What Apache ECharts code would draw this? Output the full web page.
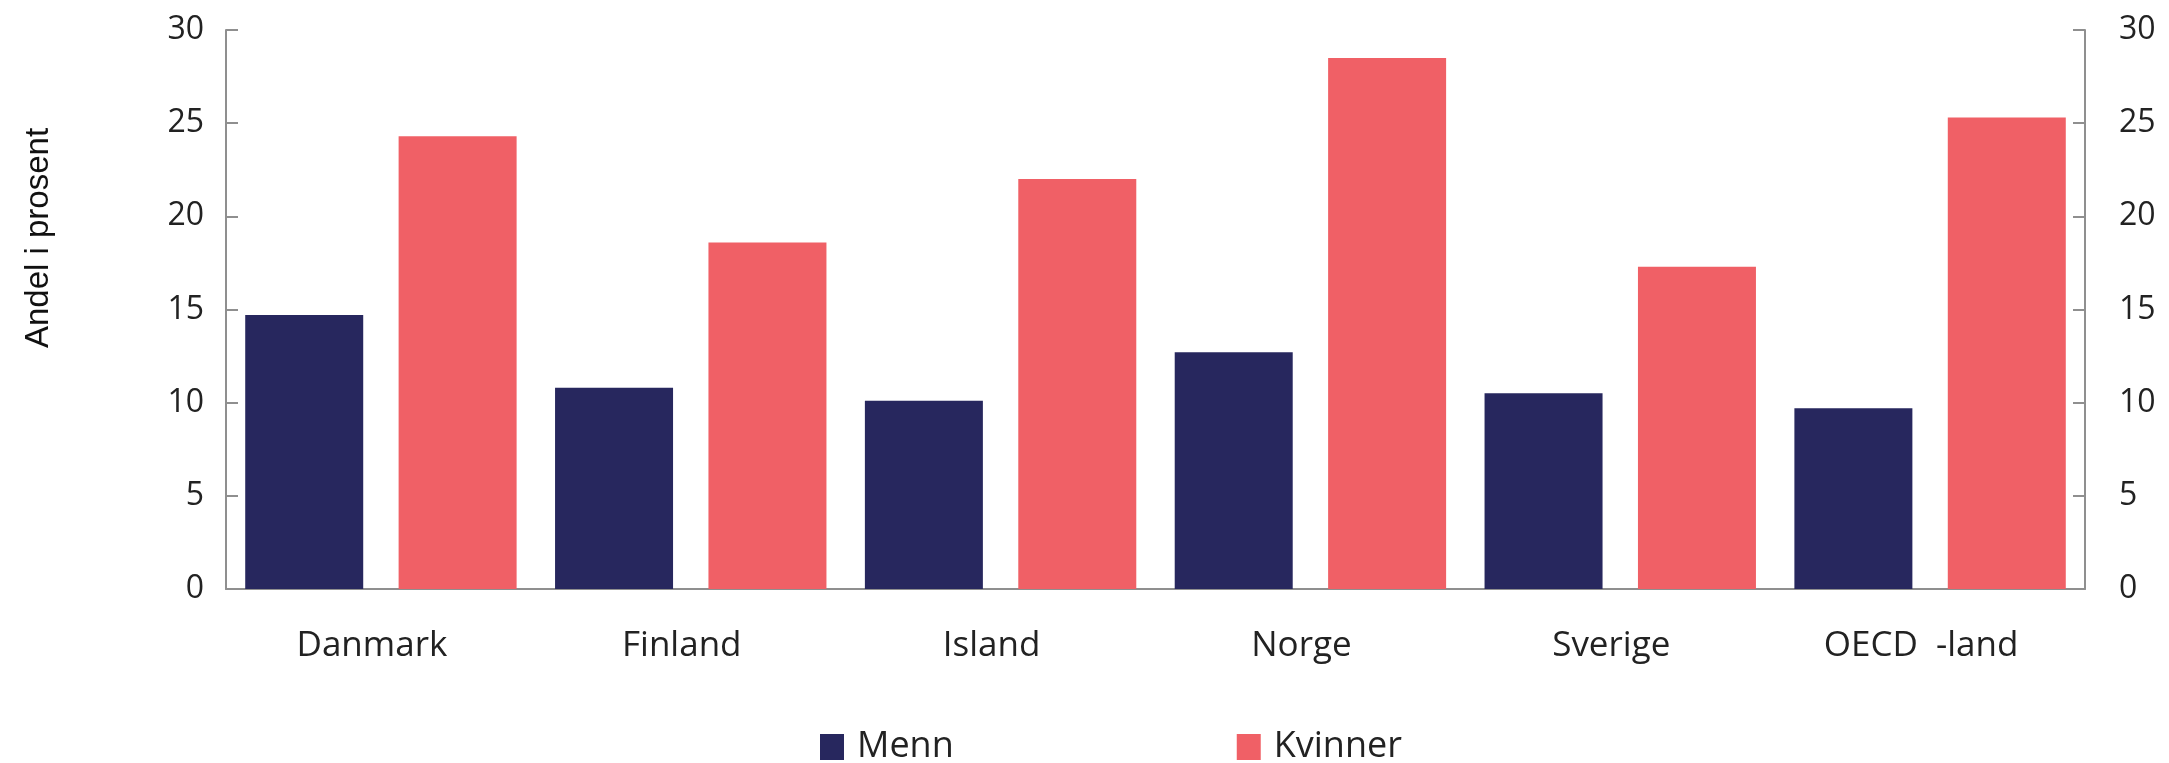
<!DOCTYPE html>
<html>
<head>
<meta charset="utf-8">
<script src="https://cdn.jsdelivr.net/npm/echarts@6/dist/echarts.min.js"></script>
<style>
html,body{margin:0;padding:0;background:#fff;}
#chart{width:2169px;height:763px;}
</style>
</head>
<body>
<div id="chart"></div>
<script>
const categories = ['Danmark', 'Finland', 'Island', 'Norge', 'Sverige', 'OECD  -land'];
const menn = [14.7, 10.8, 10.1, 12.7, 10.5, 9.7];
const kvinner = [24.3, 18.6, 22.0, 28.5, 17.3, 25.3];
const yTicks = { min: 0, max: 30, interval: 5 };
const yTitle = 'Andel i prosent';

const axisGray = '#8f8f8f';
const chart = echarts.init(document.getElementById('chart'));
const yAxisBase = {
  type: 'value',
  min: yTicks.min, max: yTicks.max, interval: yTicks.interval,
  splitLine: { show: false },
  axisLine: { show: true, lineStyle: { color: axisGray, width: 2 } },
  axisTick: { show: true, inside: true, length: 12, lineStyle: { color: axisGray, width: 2 } },
  axisLabel: { fontFamily: 'Open Sans', fontSize: 32, color: '#222' }
};
chart.setOption({
  animation: false,
  backgroundColor: '#fff',
  grid: { left: 226, right: 84, top: 30, bottom: 174 },
  graphic: [{
    type: 'text',
    x: 39, y: 238,
    rotation: Math.PI / 2,
    style: {
      text: yTitle,
      fontFamily: 'Liberation Sans', fontSize: 33, fill: '#111',
      align: 'center', verticalAlign: 'middle'
    }
  }],
  legend: {
    data: ['Menn', 'Kvinner'],
    left: 815, top: 724,
    icon: 'rect', itemWidth: 24, itemHeight: 26, itemGap: 283,
    textStyle: { fontFamily: 'Open Sans', fontSize: 36, color: '#222', padding: [0, 0, 0, 8] }
  },
  xAxis: {
    type: 'category',
    data: categories,
    axisLine: { show: true, lineStyle: { color: axisGray, width: 2 } },
    axisTick: { show: false },
    axisLabel: { fontFamily: 'Open Sans', fontSize: 35, color: '#222', margin: 40, padding: [0, 18, 0, 0] }
  },
  yAxis: [
    Object.assign({}, yAxisBase, {
      position: 'left',
      axisLabel: Object.assign({}, yAxisBase.axisLabel, { margin: 22 })
    }),
    Object.assign({}, yAxisBase, {
      position: 'right',
      axisLabel: Object.assign({}, yAxisBase.axisLabel, { margin: 34 })
    })
  ],
  series: [
    { name: 'Menn', type: 'bar', data: menn, barWidth: 118, barGap: '30%', itemStyle: { color: '#27275e' } },
    { name: 'Kvinner', type: 'bar', data: kvinner, barWidth: 118, barGap: '30%', itemStyle: { color: '#f06066' } }
  ]
});
</script>
</body>
</html>
